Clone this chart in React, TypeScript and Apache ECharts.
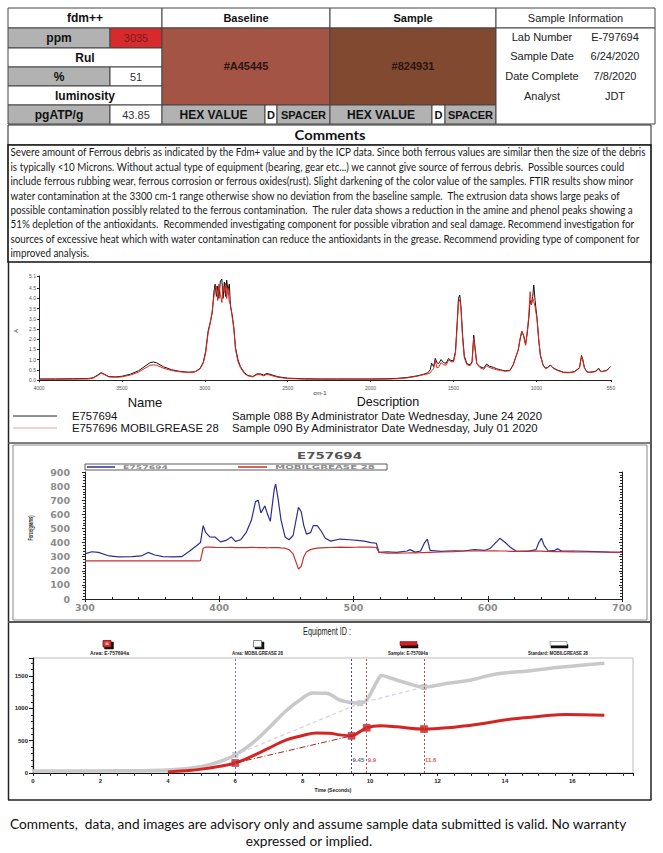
import React, { useEffect, useRef } from "react";
import * as echarts from "echarts";

// ---------------- DATA ----------------
const fdmGroupLabels = ["fdm++", "Rul", "luminosity"];
const fdmLabels = ["ppm", "%", "pgATP/g"];
const fdmValues = ["3035", "51", "43.85"];
const baselineHex = "#A45445";
const sampleHex = "#824931";
const infoLabels = ["Lab Number", "Sample Date", "Date Complete", "Analyst"];
const infoValues = ["E-797694", "6/24/2020", "7/8/2020", "JDT"];

const commentLines = [
  "Severe amount of Ferrous debris as indicated by the Fdm+ value and by the ICP data. Since both ferrous values are similar then the size of the debris",
  "is typically <10 Microns. Without actual type of equipment (bearing, gear etc...) we cannot give source of ferrous debris.  Possible sources could",
  "include ferrous rubbing wear, ferrous corrosion or ferrous oxides(rust). Slight darkening of the color value of the samples. FTIR results show minor",
  "water contamination at the 3300 cm-1 range otherwise show no deviation from the baseline sample.  The extrusion data shows large peaks of",
  "possible contamination possibly related to the ferrous contamination.  The ruler data shows a reduction in the amine and phenol peaks showing a",
  "51% depletion of the antioxidants.  Recommended investigating component for possible vibration and seal damage. Recommend investigation for",
  "sources of excessive heat which with water contamination can reduce the antioxidants in the grease. Recommend providing type of component for",
  "improved analysis.",
];
const footerLines = [
  "Comments,  data, and images are advisory only and assume sample data submitted is valid. No warranty",
  "expressed or implied.",
];

// FTIR spectra (wavenumber cm-1, absorbance A)
const ftirWavenumbers = [4000, 3900, 3800, 3700, 3670, 3645, 3625, 3605, 3580, 3540, 3500, 3450, 3400, 3360, 3330, 3310, 3290, 3250, 3200, 3150, 3100, 3060, 3030, 3010, 2995, 2980, 2968, 2955, 2945, 2938, 2930, 2922, 2915, 2906, 2897, 2890, 2882, 2875, 2868, 2860, 2852, 2845, 2835, 2825, 2815, 2800, 2785, 2760, 2740, 2710, 2685, 2665, 2645, 2625, 2600, 2560, 2500, 2400, 2300, 2200, 2100, 2000, 1900, 1840, 1780, 1720, 1680, 1655, 1640, 1632, 1620, 1610, 1600, 1590, 1575, 1560, 1545, 1530, 1515, 1500, 1488, 1478, 1470, 1462, 1455, 1445, 1435, 1420, 1400, 1388, 1378, 1370, 1360, 1340, 1318, 1300, 1285, 1260, 1240, 1217, 1190, 1160, 1140, 1127, 1110, 1098, 1088, 1078, 1065, 1055, 1046, 1038, 1030, 1022, 1016, 1008, 996, 986, 976, 960, 946, 930, 916, 900, 875, 850, 835, 800, 770, 740, 728, 720, 710, 695, 684, 660, 640, 625, 615, 604, 590, 575, 560, 554];
const ftirE757694 = [0.05, 0.05, 0.06, 0.07, 0.12, 0.25, 0.36, 0.28, 0.17, 0.15, 0.18, 0.28, 0.45, 0.68, 0.85, 0.88, 0.84, 0.65, 0.5, 0.42, 0.38, 0.4, 0.55, 0.85, 1.4, 2.4, 2.8, 3.3, 4.3, 4.7, 4.1, 4.6, 4.0, 4.85, 4.95, 4.0, 4.8, 4.1, 4.9, 4.4, 4.7, 3.6, 3.2, 2.6, 1.6, 1.0, 0.65, 0.35, 0.22, 0.17, 0.3, 0.3, 0.24, 0.32, 0.26, 0.16, 0.09, 0.06, 0.05, 0.05, 0.05, 0.05, 0.06, 0.08, 0.12, 0.2, 0.28, 0.35, 0.5, 0.82, 0.65, 1.06, 0.85, 0.8, 1.0, 0.85, 0.82, 1.05, 0.95, 0.95, 1.4, 2.8, 4.0, 4.17, 3.6, 2.2, 1.2, 0.8, 0.74, 0.9, 2.2, 1.6, 0.82, 0.65, 0.58, 0.78, 0.68, 0.62, 0.55, 0.5, 0.45, 0.47, 0.75, 1.06, 1.45, 2.0, 2.37, 2.2, 1.75, 2.3, 3.0, 3.9, 3.7, 4.1, 4.66, 3.9, 3.02, 2.0, 1.23, 0.75, 0.58, 0.62, 0.74, 0.6, 0.49, 0.42, 0.38, 0.37, 0.41, 0.6, 1.2, 1.0, 0.6, 0.4, 0.38, 0.4, 0.44, 0.58, 0.45, 0.41, 0.45, 0.48, 0.6, 0.66];
const ftirMobilgrease28 = [0.03, 0.03, 0.04, 0.05, 0.1, 0.22, 0.33, 0.26, 0.15, 0.13, 0.15, 0.24, 0.38, 0.58, 0.72, 0.74, 0.72, 0.58, 0.46, 0.4, 0.37, 0.39, 0.53, 0.8, 1.3, 2.3, 2.75, 3.4, 4.1, 4.5, 4.6, 3.9, 4.7, 4.2, 3.8, 4.6, 4.3, 4.75, 4.0, 4.5, 3.8, 3.7, 3.1, 2.5, 1.5, 0.9, 0.6, 0.3, 0.2, 0.15, 0.26, 0.26, 0.2, 0.28, 0.22, 0.13, 0.07, 0.04, 0.03, 0.03, 0.03, 0.03, 0.04, 0.06, 0.1, 0.18, 0.26, 0.3, 0.35, 0.45, 0.55, 0.95, 0.6, 0.62, 0.85, 0.75, 0.72, 0.98, 0.9, 0.88, 1.3, 2.6, 3.8, 3.95, 3.5, 2.0, 1.1, 0.75, 0.7, 0.85, 2.05, 1.5, 0.8, 0.6, 0.52, 0.7, 0.62, 0.55, 0.5, 0.47, 0.43, 0.45, 0.72, 1.05, 1.47, 2.05, 2.4, 2.2, 1.7, 2.4, 3.1, 4.33, 3.68, 4.0, 3.85, 3.6, 2.95, 1.95, 1.2, 0.72, 0.56, 0.6, 0.72, 0.58, 0.47, 0.4, 0.36, 0.35, 0.4, 0.58, 1.15, 0.95, 0.58, 0.38, 0.36, 0.38, 0.42, 0.55, 0.43, 0.4, 0.43, 0.46, 0.58, 0.64];
const ftirXTicks = [4000, 3500, 3000, 2500, 2000, 1500, 1000, 550];
const ftirYTicks = [5.1, 4.5, 4.0, 3.5, 3.0, 2.5, 2.0, 1.5, 1.0, 0.5, 0.0, -0.1];

// Extrusion force (distance, grams)
const forceDistance = [300, 305, 310, 318, 325, 335, 342, 347, 352, 358, 365, 372, 378, 384, 386, 388, 390, 393, 397, 401, 405, 409, 412, 416, 420, 424, 427, 429, 431, 434, 436, 438, 441, 442, 444, 446, 449, 452, 455, 458, 459, 461, 463, 465, 468, 470, 473, 476, 479, 483, 490, 497, 503, 508, 513, 517, 519, 525, 532, 540, 542, 546, 550, 553, 555, 557, 565, 575, 582, 590, 598, 602, 606, 609, 613, 617, 621, 630, 636, 638, 640, 642, 645, 650, 652, 655, 665, 680, 690, 700];
const forceE757694 = [320, 335, 330, 305, 298, 300, 305, 330, 312, 300, 298, 300, 340, 385, 400, 520, 470, 440, 438, 405, 415, 440, 408, 420, 470, 560, 690, 700, 610, 660, 600, 550, 780, 815, 700, 560, 440, 420, 450, 600, 650, 620, 520, 460, 470, 520, 520, 480, 430, 410, 425, 420, 415, 410, 400, 395, 330, 335, 330, 340, 350, 332, 340, 400, 425, 345, 338, 342, 340, 350, 345, 360, 400, 430, 400, 365, 340, 338, 350, 400, 430, 380, 340, 345, 355, 340, 340, 336, 332, 330];
const forceMobilgrease28 = [270, 270, 270, 270, 270, 270, 270, 270, 270, 270, 270, 270, 270, 270, 272, 360, 368, 368, 366, 365, 365, 366, 364, 365, 364, 366, 365, 364, 365, 364, 363, 365, 364, 365, 364, 362, 360, 350, 320, 240, 212, 230, 300, 335, 350, 355, 360, 362, 364, 365, 367, 366, 367, 368, 368, 365, 330, 325, 325, 326, 327, 327, 328, 329, 330, 331, 333, 336, 340, 340, 340, 341, 341, 340, 340, 338, 338, 339, 339, 339, 339, 338, 338, 336, 336, 336, 334, 333, 333, 330];

// Equipment ID curves (time s, force)
const standardTime = [0, 1, 2, 3, 4, 4.5, 5, 5.5, 6, 6.5, 7, 7.5, 8, 8.3, 8.7, 9.1, 9.45, 9.7, 9.9, 10.2, 10.35, 10.6, 11.1, 11.6, 12.3, 13.0, 13.7, 14.7, 15.7, 16.95];
const standardForce = [30, 30, 32, 35, 45, 65, 100, 170, 280, 460, 700, 960, 1160, 1240, 1235, 1130, 1090, 1080, 1130, 1410, 1510, 1470, 1390, 1330, 1390, 1440, 1530, 1580, 1640, 1700];
const sampleTime = [4, 4.5, 5, 5.5, 6, 6.5, 7, 7.5, 8, 8.4, 8.8, 9.1, 9.45, 9.7, 9.9, 10.3, 10.8, 11.6, 12.3, 13.2, 14.2, 15.2, 15.8, 16.95];
const sampleForce = [15, 35, 60, 100, 155, 260, 385, 510, 580, 620, 615, 590, 575, 640, 700, 730, 715, 680, 700, 755, 835, 885, 905, 895];
const sampleMarkerTimes = [6, 9.45, 9.9, 11.6];
const sampleMarkerValues = [155, 575, 700, 680];
const standardMarkerTimes = [6, 9.7, 11.6];
const standardMarkerValues = [280, 1080, 1330];
const cursorTimes = [6, 9.45, 9.9, 11.6];
const cursorLabels = ["", "9.45", "9.9", "11.6"];
const cursorLabelLevel = 200;

// ---------------- STYLE ----------------
const LIB = '"Liberation Sans", Arial, sans-serif';
const NARROW = '"Liberation Sans Narrow", "Liberation Sans", Arial, sans-serif';
const LATO = 'Lato, "Open Sans", sans-serif';
const DEJAVU = '"DejaVu Sans", Verdana, sans-serif';
const GREY = "#b2b2b2";

let measureCtx: CanvasRenderingContext2D | null = null;
function measure(text: string, font: string) {
  if (!measureCtx) measureCtx = document.createElement("canvas").getContext("2d");
  measureCtx!.font = font;
  return measureCtx!.measureText(text).width || 1;
}
function fit(text: string, font: string, width: number) {
  return width / measure(text, font);
}

function T(x: number, y: number, text: string, font: string, fill = "#111", align = "center", extra: any = {}) {
  return {
    type: "text",
    x,
    y,
    silent: true,
    z: 10,
    style: { text, font, fill, textAlign: align, align, textVerticalAlign: "middle", verticalAlign: "middle" },
    ...extra,
  };
}
function R(x: number, y: number, w: number, h: number, fill: string, stroke = "#333", lw = 1) {
  return { type: "rect", silent: true, z: 1, shape: { x, y, width: w, height: h }, style: { fill, stroke, lineWidth: lw } };
}
function L(x1: number, y1: number, x2: number, y2: number, stroke: string, lw = 1) {
  return { type: "line", silent: true, z: 5, shape: { x1, y1, x2, y2 }, style: { stroke, lineWidth: lw } };
}

function buildGraphics() {
  const g: any[] = [];
  const B12 = `bold 12px ${LIB}`;
  const B11 = `bold 11px ${LIB}`;
  const N11 = `11px ${LIB}`;
  const TB = "#444";
  // ---- top table: fdm column ----
  g.push(R(8, 8, 154, 20, "#fff", TB), T(85, 18, fdmGroupLabels[0], B12));
  g.push(R(8, 28, 102, 20, GREY, TB), T(59, 38, fdmLabels[0], B12));
  g.push(R(110, 28, 52, 20, "#d62a2d", TB), T(136, 38, fdmValues[0], N11, "#7c1a1a"));
  g.push(R(8, 48, 154, 19, "#fff", TB), T(85, 57.5, fdmGroupLabels[1], B12));
  g.push(R(8, 67, 102, 19, GREY, TB), T(59, 76.5, fdmLabels[1], B12));
  g.push(R(110, 67, 52, 19, "#fff", TB), T(136, 76.5, fdmValues[1], N11, "#333"));
  g.push(R(8, 86, 154, 19, "#fff", TB), T(85, 95.5, fdmGroupLabels[2], B12));
  g.push(R(8, 105, 102, 19, GREY, TB), T(59, 114.5, fdmLabels[2], B12));
  g.push(R(110, 105, 52, 19, "#fff", TB), T(136, 114.5, fdmValues[2], N11, "#333"));
  // Baseline
  g.push(R(162, 8, 168, 20, "#fff", TB), T(246, 18, "Baseline", B11));
  g.push(R(162, 28, 168, 77, baselineHex, TB), T(246, 66, baselineHex, B11, "#2a1510"));
  g.push(R(162, 105, 103, 19, GREY, TB), T(213.5, 114.5, "HEX VALUE", B12));
  g.push(R(265, 105, 12, 19, "#fff", TB), T(271, 114.5, "D", B11));
  g.push(R(277, 105, 53, 19, GREY, TB), T(303.5, 114.5, "SPACER", B11));
  // Sample
  g.push(R(330, 8, 166, 20, "#fff", TB), T(413, 18, "Sample", B11));
  g.push(R(330, 28, 166, 77, sampleHex, TB), T(413, 66, sampleHex, B11, "#2a1510"));
  g.push(R(330, 105, 102, 19, GREY, TB), T(381, 114.5, "HEX VALUE", B12));
  g.push(R(432, 105, 13, 19, "#fff", TB), T(438.5, 114.5, "D", B11));
  g.push(R(445, 105, 51, 19, GREY, TB), T(470.5, 114.5, "SPACER", B11));
  // Info
  g.push(R(496, 8, 159, 20, "#fff", TB), T(575.5, 18, "Sample Information", N11, "#222"));
  g.push(R(496, 28, 159, 96, "#fff", TB));
  const infoY = [37, 56, 76, 95.5];
  infoLabels.forEach((lab, i) => {
    g.push(T(542, infoY[i], lab, N11, "#222"));
    g.push(T(615, infoY[i], infoValues[i], N11, "#222"));
  });

  // ---- comments ----
  g.push(R(8, 125, 643, 20, "#fff", "#222", 1));
  const cf = `bold 14px ${LATO}`;
  g.push(T(330, 135, "Comments", cf, "#111", "center", { scaleX: fit("Comments", cf, 71) }));
  g.push(R(8, 145, 643, 117, "#fff", "#111", 1.6));
  const bodyFont = `11px ${LATO}`;
  const s = fit(commentLines[0], bodyFont, 638);
  commentLines.forEach((ln, i) => {
    g.push(T(10.5, 152 + i * 14.45, ln, bodyFont, "#1a1a1a", "left", { scaleX: s }));
  });

  // ---- chart area frame ----
  g.push(L(8.5, 262, 8.5, 800, "#222", 1.5));
  g.push(L(651, 262, 651, 800, "#222", 1.5));
  g.push(L(8, 800, 651.5, 800, "#222", 1.5));
  g.push(L(8, 443, 651, 443, "#555", 1.6));
  g.push(L(8, 622, 651, 622, "#555", 2));

  // ---- FTIR extras ----
  g.push(T(16, 331, "A", `6px ${LIB}`, "#333", "center", { rotation: Math.PI / 2 }));
  g.push(T(320, 393, "cm-1", `6px ${LIB}`, "#333"));
  g.push(T(145, 402, "Name", `13px ${LIB}`, "#111"));
  g.push(T(388, 402, "Description", `12.5px ${LIB}`, "#111"));
  const lf = `11px ${LIB}`;
  const l1 = "Sample 088 By Administrator Date Wednesday, June 24 2020";
  const l2 = "Sample 090 By Administrator Date Wednesday, July 01 2020";
  const ls = fit(l1, lf, 311);
  g.push(L(13, 416, 57, 416, "#222", 1));
  g.push(T(72, 416, "E757694", lf, "#111", "left", { scaleX: ls }));
  g.push(T(232, 416, l1, lf, "#111", "left", { scaleX: ls }));
  g.push(L(13, 428, 57, 428, "#f2a08c", 1));
  g.push(T(72, 428, "E757696 MOBILGREASE 28", lf, "#111", "left", { scaleX: ls }));
  g.push(T(232, 428, l2, lf, "#111", "left", { scaleX: ls }));

  // ---- Force chart extras ----
  g.push({ ...R(13, 445, 634, 175, "none", "#8a8a8a", 1), z: 0 });
  const tf = `bold 9px ${DEJAVU}`;
  g.push(T(329.5, 456, "E757694", tf, "#555", "center", { scaleX: fit("E757694", tf, 65) }));
  g.push(R(85, 464, 302, 6, "#fff", "#333", 0.8));
  const sf = `bold 5px ${DEJAVU}`;
  g.push(L(87, 467, 115, 467, "#3a3aa0", 1.6));
  g.push(T(123, 467.2, "E757694", sf, "#8a8a8a", "left", { scaleX: fit("E757694", sf, 45) }));
  g.push(L(238, 467, 267, 467, "#cc3a3a", 1.6));
  g.push(T(275, 467.2, "MOBILGREASE 28", sf, "#8a8a8a", "left", { scaleX: fit("MOBILGREASE 28", sf, 100) }));
  const ff = `bold 7px ${NARROW}`;
  g.push(T(31, 528, "Force(grams)", ff, "#222", "center", { rotation: Math.PI / 2, scaleX: fit("Force(grams)", ff, 25) }));

  // ---- Equipment chart extras ----
  const ef = `11px ${NARROW}`;
  g.push(T(327, 631, "Equipment ID :", ef, "#222", "center", { scaleX: fit("Equipment ID :", ef, 48) }));
  const lg = `bold 6px ${NARROW}`;
  // icons
  g.push(R(104.5, 642, 9, 7, "#111", "#111", 0.5));
  g.push(R(103, 640.5, 8, 6.5, "#e03434", "#7a1010", 0.8));
  g.push(R(105.5, 642.5, 3, 2.5, "#f6b0b0", "none", 0));
  g.push(R(255, 642, 9, 7, "#111", "#111", 0.5));
  g.push(R(253.5, 640.5, 8, 6.5, "#fff", "#666", 0.8));
  g.push(R(401, 644.5, 17, 3.5, "#111", "#111", 0.5));
  g.push(R(400, 641.5, 17, 4, "#d42020", "#8a1010", 0.6));
  g.push(R(551, 644.5, 17, 3.5, "#111", "#111", 0.5));
  g.push(R(550, 641.5, 17, 4, "#fff", "#777", 0.6));
  const legTexts = [
    ["Area: E-757694a", 109.5, 39],
    ["Area: MOBILGREASE 28", 257.5, 51],
    ["Sample: E-757094a", 408, 40],
    ["Standard: MOBILGREASE 28", 558, 60],
  ];
  legTexts.forEach(([t, x, w]) => {
    g.push(T(x as number, 653, t as string, lg, "#222", "center", { scaleX: fit(t as string, lg, w as number) }));
  });
  g.push(T(333, 790, "Time (Seconds)", lg, "#222", "center", { scaleX: fit("Time (Seconds)", lg, 37) }));

  // ---- footer ----
  const fo = `13.5px ${LATO}`;
  const fs = fit(footerLines[0], fo, 618);
  g.push(T(10, 824, footerLines[0], fo, "#111", "left", { scaleX: fs }));
  g.push(T(309, 841, footerLines[1], fo, "#111", "center", { scaleX: fs }));
  return g;
}

function buildOption(): any {
  const cursorColors = ["#6f6fd0", "#4444b0", "#c04848", "#c04848"];
  const cursorTextColors = ["#3030a0", "#3030a0", "#c03030", "#c03030"];
  const plain = (v: number) => String(v);
  const ftirLabel = { fontSize: 5, color: "#555", fontFamily: LIB };
  const forceLabel = { fontSize: 9.5, fontWeight: "bold", color: "#8c8c8c", fontFamily: DEJAVU, formatter: plain };
  const eqLabel = { fontSize: 6, fontWeight: "bold", color: "#222", fontFamily: NARROW };
  const blk = { color: "#222", width: 1 };
  return {
    animation: false,
    backgroundColor: "#fff",
    graphic: { elements: buildGraphics() },
    grid: [
      { left: 39, top: 276, width: 572, height: 106 },
      { left: 85, top: 472, width: 537, height: 127 },
      { left: 33, top: 658, width: 600, height: 115, show: true, borderColor: "#bdbdbd", borderWidth: 1, backgroundColor: "transparent" },
    ],
    xAxis: [
      {
        gridIndex: 0, type: "value", min: 550, max: 4000, inverse: true,
        axisLine: { show: true, lineStyle: blk },
        axisTick: { show: true, customValues: ftirXTicks, length: 2, lineStyle: blk },
        axisLabel: { ...ftirLabel, customValues: ftirXTicks, margin: 3, formatter: plain },
        splitLine: { show: false },
      },
      {
        gridIndex: 1, type: "value", min: 300, max: 700, interval: 100,
        axisLine: { show: true, lineStyle: blk },
        axisTick: { show: true, inside: true, length: 3, lineStyle: blk },
        minorTick: { show: true, splitNumber: 5, length: 2, lineStyle: blk },
        axisLabel: { ...forceLabel, margin: 3 },
        splitLine: { show: false },
      },
      {
        gridIndex: 1, type: "value", position: "top", min: 300, max: 700, interval: 100,
        axisLine: { show: false },
        axisTick: { show: true, inside: true, length: 3, lineStyle: blk },
        axisLabel: { show: false },
        splitLine: { show: false },
      },
      {
        gridIndex: 2, type: "value", min: 0, max: 17.8, interval: 2,
        axisLine: { show: true, lineStyle: { color: "#111", width: 1.2 } },
        axisTick: { show: true, length: 3, lineStyle: { color: "#111" } },
        minorTick: { show: true, splitNumber: 4, length: 3, lineStyle: { color: "#333" } },
        axisLabel: { ...eqLabel, margin: 5, showMaxLabel: false, formatter: plain },
        splitLine: { show: false },
      },
    ],
    yAxis: [
      {
        gridIndex: 0, type: "value", min: -0.1, max: 5.1,
        axisLine: { show: true, lineStyle: blk },
        axisTick: { show: true, customValues: ftirYTicks, length: 2, lineStyle: blk },
        axisLabel: { ...ftirLabel, customValues: ftirYTicks, margin: 3, formatter: (v: number) => v.toFixed(1) },
        splitLine: { show: false },
      },
      {
        gridIndex: 1, type: "value", min: 0, max: 900, interval: 100,
        axisLine: { show: true, lineStyle: blk },
        axisTick: { show: true, length: 3, lineStyle: blk },
        minorTick: { show: true, splitNumber: 5, length: 2, lineStyle: blk },
        axisLabel: { ...forceLabel, margin: 15 },
        splitLine: { show: false },
      },
      {
        gridIndex: 1, type: "value", position: "right", min: 0, max: 900, interval: 100,
        axisLine: { show: true, lineStyle: blk },
        axisTick: { show: true, inside: true, length: 3, lineStyle: blk },
        minorTick: { show: true, splitNumber: 5, length: 2, lineStyle: blk },
        axisLabel: { show: false },
        splitLine: { show: false },
      },
      {
        gridIndex: 2, type: "value", min: 0, max: 1780, interval: 500,
        axisLine: { show: true, lineStyle: { color: "#111", width: 1.2 } },
        axisTick: { show: true, length: 4, lineStyle: { color: "#111" } },
        minorTick: { show: true, splitNumber: 5, length: 2, lineStyle: { color: "#333" } },
        axisLabel: { ...eqLabel, margin: 5, showMaxLabel: false, formatter: plain },
        splitLine: { show: false },
      },
    ],
    series: [
      {
        type: "line", name: "E757694", xAxisIndex: 0, yAxisIndex: 0, showSymbol: false, silent: true,
        data: ftirWavenumbers.map((w, i) => [w, ftirE757694[i]]),
        lineStyle: { color: "#111", width: 1 }, color: "#111",
      },
      {
        type: "line", name: "E757696 MOBILGREASE 28", xAxisIndex: 0, yAxisIndex: 0, showSymbol: false, silent: true,
        data: ftirWavenumbers.map((w, i) => [w, ftirMobilgrease28[i]]),
        lineStyle: { color: "#e3261b", width: 1 }, color: "#e3261b",
      },
      {
        type: "line", name: "Force E757694", xAxisIndex: 1, yAxisIndex: 1, showSymbol: false, silent: true,
        data: forceDistance.map((d, i) => [d, forceE757694[i]]),
        lineStyle: { color: "#2d2d92", width: 1.2 }, color: "#2d2d92",
      },
      {
        type: "line", name: "Force MOBILGREASE 28", xAxisIndex: 1, yAxisIndex: 1, showSymbol: false, silent: true,
        data: forceDistance.map((d, i) => [d, forceMobilgrease28[i]]),
        lineStyle: { color: "#c8302e", width: 1.2 }, color: "#c8302e",
      },
      {
        type: "line", name: "Standard: MOBILGREASE 28", xAxisIndex: 3, yAxisIndex: 3, showSymbol: false, silent: true,
        smooth: 0.4,
        data: standardTime.map((t, i) => [t, standardForce[i]]),
        lineStyle: { color: "#c9c9c9", width: 3.5 }, color: "#c9c9c9",
        markLine: {
          silent: true, symbol: "none", label: { show: false }, animation: false,
          data: cursorTimes.map((t, i) => ({ xAxis: t, lineStyle: { color: cursorColors[i], type: [2, 2], width: 1 } })),
        },
      },
      {
        type: "line", name: "Sample: E-757094a", xAxisIndex: 3, yAxisIndex: 3, showSymbol: false, silent: true,
        smooth: 0.4,
        data: sampleTime.map((t, i) => [t, sampleForce[i]]),
        lineStyle: { color: "#d42424", width: 3 }, color: "#d42424",
      },
      {
        type: "line", name: "Standard slope", xAxisIndex: 3, yAxisIndex: 3, showSymbol: false, silent: true,
        data: standardMarkerTimes.map((t, i) => [t, standardMarkerValues[i]]),
        lineStyle: { color: "#cdd0e0", width: 1.2, type: [4, 3] }, color: "#cdd0e0",
      },
      {
        type: "line", name: "Sample slope", xAxisIndex: 3, yAxisIndex: 3, showSymbol: false, silent: true,
        data: sampleMarkerTimes.slice(0, 2).map((t, i) => [t, sampleMarkerValues[i]]),
        lineStyle: { color: "#a82a2a", width: 1, type: [6, 2, 1, 2] }, color: "#a82a2a",
      },
      {
        type: "scatter", name: "Standard markers", xAxisIndex: 3, yAxisIndex: 3, silent: true,
        symbol: "rect", symbolSize: 6,
        data: standardMarkerTimes.map((t, i) => [t, standardMarkerValues[i]]),
        itemStyle: { color: "#bdbdbd" },
      },
      {
        type: "scatter", name: "Sample markers", xAxisIndex: 3, yAxisIndex: 3, silent: true,
        symbol: "rect", symbolSize: 7,
        data: sampleMarkerTimes.map((t, i) => [t, sampleMarkerValues[i]]),
        itemStyle: { color: "#d42020", borderColor: "#a01010", borderWidth: 0.5 },
      },
      {
        type: "scatter", name: "Cursor labels", xAxisIndex: 3, yAxisIndex: 3, silent: true,
        symbolSize: 0,
        data: cursorTimes
          .map((t, i) => ({ value: [t, cursorLabelLevel], name: cursorLabels[i], label: { color: cursorTextColors[i] } }))
          .filter((d) => d.name !== ""),
        label: { show: true, position: "right", distance: 1, formatter: (p: any) => p.name, ...eqLabel },
      },
    ],
  };
}

export default function App() {
  const ref = useRef<HTMLDivElement>(null);
  useEffect(() => {
    const chart = echarts.init(ref.current!, null, { renderer: "svg", width: 663, height: 853 });
    chart.setOption(buildOption());
    return () => chart.dispose();
  }, []);
  return (
    <div
      ref={ref}
      style={{ position: "absolute", left: 0, top: 0, width: 663, height: 853, background: "#fff" }}
    />
  );
}
